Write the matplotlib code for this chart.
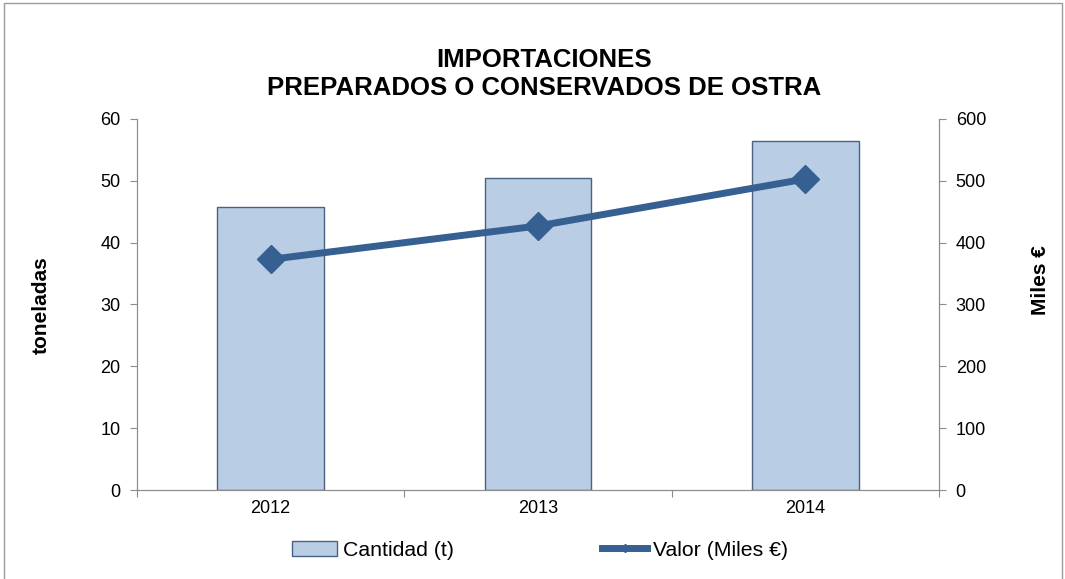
import numpy as np
import matplotlib
matplotlib.use('Agg')
import matplotlib.pyplot as plt
from matplotlib.patches import Rectangle
from matplotlib.lines import Line2D

plt.rcParams['font.family'] = ['Liberation Sans', 'DejaVu Sans']

years = ['2012', '2013', '2014']
cantidad = [45.7, 50.4, 56.5]      # toneladas
valor = [373, 427, 503]            # miles de euros

bar_fill = '#B9CDE5'
bar_edge = '#4A6282'
line_col = '#366092'
axis_col = '#8C8C8C'

fig = plt.figure(figsize=(10.65, 5.79), dpi=100)
fig.patches.append(Rectangle((0.004, -0.01), 0.993, 1.004, transform=fig.transFigure,
                             fill=False, edgecolor='#9A9A9A', linewidth=1))

ax = fig.add_axes([0.1286, 0.1537, 0.7531, 0.6408])
x = np.arange(len(years))
ax.bar(x, cantidad, width=0.4, color=bar_fill, edgecolor=bar_edge, linewidth=1, zorder=2)
ax.set_xlim(-0.5, 2.5)
ax.set_ylim(0, 60)
ax.set_yticks(np.arange(0, 61, 10))
ax.set_xticks([-0.5, 0.5, 1.5, 2.5])
ax.set_xticklabels([])
ax.set_xticks(x, minor=True)
ax.set_xticklabels(years, minor=True)
ax.tick_params(axis='x', which='minor', length=0, pad=7, labelsize=13)
ax.tick_params(axis='x', which='major', length=5, direction='out', color=axis_col)
ax.tick_params(axis='y', length=5, direction='out', color=axis_col, labelsize=13, pad=7)
for s in ['left', 'bottom', 'right']:
    ax.spines[s].set_color(axis_col)
ax.spines['top'].set_visible(False)

ax2 = ax.twinx()
ax2.plot(x, valor, color=line_col, linewidth=5, marker='D', markersize=14, zorder=3)
ax2.set_ylim(0, 600)
ax2.set_yticks(np.arange(0, 601, 100))
ax2.tick_params(axis='y', length=5, direction='out', color=axis_col, labelsize=13, pad=7)
for s in ['left', 'bottom', 'right']:
    ax2.spines[s].set_color(axis_col)
ax2.spines['top'].set_visible(False)

# axis titles
fig.text(41 / 1065, 1 - 305 / 579, 'toneladas', rotation=90, ha='center', va='center',
         fontsize=15, fontweight='bold')
fig.text(1040 / 1065, 1 - 280 / 579, 'Miles €', rotation=90, ha='center', va='center',
         fontsize=15, fontweight='bold')

fig.text(0.511, 1 - 74 / 579, 'IMPORTACIONES\nPREPARADOS O CONSERVADOS DE OSTRA',
         ha='center', va='center', fontsize=18.5, fontweight='bold', linespacing=1.22)

handles = [Rectangle((0, 0), 1, 1, facecolor=bar_fill, edgecolor=bar_edge),
           Line2D([0], [0], color=line_col, linewidth=5, marker='D', markersize=4)]
fig.legend(handles, ['Cantidad (t)', 'Valor (Miles €)'], loc='center',
           bbox_to_anchor=(540 / 1065, 1 - 550 / 579), ncol=2, frameon=False, fontsize=15.3,
           handlelength=2.1, handleheight=0.7, handletextpad=0.28, columnspacing=7.0)

fig.savefig('out.png', dpi=100)
